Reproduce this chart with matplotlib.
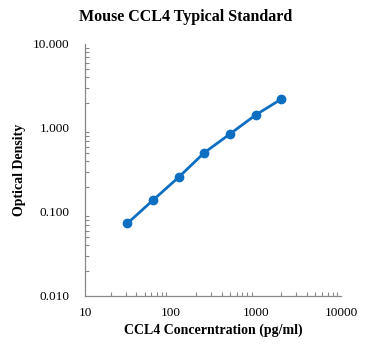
import numpy as np
import matplotlib
matplotlib.use("Agg")
import matplotlib.pyplot as plt
from matplotlib.ticker import LogLocator, NullFormatter

plt.rcParams['font.family'] = ['Liberation Serif', 'DejaVu Serif']

conc = [31.25, 62.5, 125, 250, 500, 1000, 2000]
od = [0.073, 0.138, 0.259, 0.508, 0.849, 1.43, 2.21]
yticks = [0.01, 0.1, 1, 10]
ytick_labels = ["0.010", "0.100", "1.000", "10.000"]
xticks = [10, 100, 1000, 10000]
xtick_labels = ["10", "100", "1000", "10000"]

fig = plt.figure(figsize=(3.71, 3.52), dpi=100)
ax = fig.add_axes([85/371, 1-296/352, (341-85)/371, (296-44)/352])
ax.set_xscale('log')
ax.set_yscale('log')
ax.set_xlim(10, 10000)
ax.set_ylim(0.01, 10)

color = '#0E6FC2'
ax.plot(conc, od, '-o', color=color, lw=2.0, ms=6, zorder=3)

ax.set_xticks(xticks)
ax.set_xticklabels(xtick_labels)
ax.set_yticks(yticks)
ax.set_yticklabels(ytick_labels)
ax.xaxis.set_minor_locator(LogLocator(base=10, subs=np.arange(2, 10)))
ax.yaxis.set_minor_locator(LogLocator(base=10, subs=np.arange(2, 10)))
ax.xaxis.set_minor_formatter(NullFormatter())
ax.yaxis.set_minor_formatter(NullFormatter())
ax.tick_params(which='major', length=0, labelsize=9.5)
ax.tick_params(axis='x', which='major', pad=8)
ax.tick_params(axis='y', which='major', pad=11)
ax.tick_params(which='minor', direction='in', length=3, color='#888888', width=0.8)

for s in ['top', 'right']:
    ax.spines[s].set_visible(False)
for s in ['left', 'bottom']:
    ax.spines[s].set_color('#888888')
    ax.spines[s].set_linewidth(0.9)

ax.set_xlabel('CCL4 Concerntration (pg/ml)', fontsize=10, fontweight='bold', labelpad=3)
ax.set_ylabel('Optical Density', fontsize=10, fontweight='bold', labelpad=5)
fig.text(0.5, 1-17/352, 'Mouse CCL4 Typical Standard', ha='center', va='center',
         fontsize=11.5, fontweight='bold')

fig.savefig('out.png', dpi=100)
